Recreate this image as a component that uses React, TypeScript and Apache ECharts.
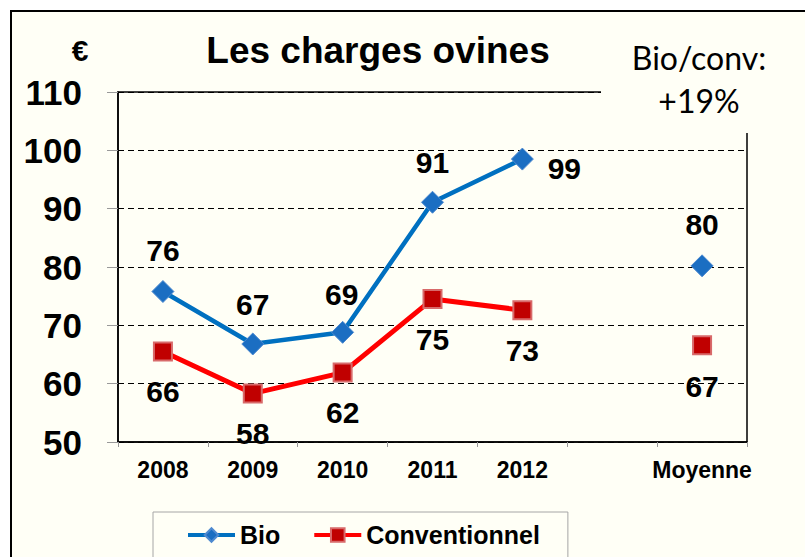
import React, { useEffect, useRef } from "react";
import * as echarts from "echarts";

// ---- data ----
const categories = ["2008", "2009", "2010", "2011", "2012", "", "Moyenne"];
const bioValues = [75.8, 66.8, 68.8, 91.1, 98.5, null, 80.2];
const convValues = [65.5, 58.3, 61.9, 74.5, 72.6, null, 66.6];
const bioLabels = ["76", "67", "69", "91", "99", "", "80"];
const convLabels = ["66", "58", "62", "75", "73", "", "67"];
const yMin = 50;
const yMax = 110;
const yStep = 10;
const titleText = "Les charges ovines";
const unitText = "€";
const ratioLine1 = "Bio/conv:";
const ratioLine2 = "+19%";
const seriesNames = ["Bio", "Conventionnel"];

// ---- layout / style ----
const CREAM = "#FFFFF6";
const FONT = '"Liberation Sans", Arial, Helvetica, sans-serif';
const bioOffsets = [[0, -41], [0, -40], [-1, -38], [0, -40], [42, 9], [0, 0], [0, -41]];
const convOffsets = [[0, 40], [0, 40], [0, 40], [0, 40], [0, 40], [0, 0], [0, 41]];

function buildData(values: (number | null)[], offsets: number[][]) {
  return values.map((v, i) =>
    v === null ? null : { value: v, label: { offset: offsets[i] } }
  );
}

export default function App() {
  const ref = useRef<HTMLDivElement>(null);

  useEffect(() => {
    if (!ref.current) return;
    const chart = echarts.init(ref.current, null, { renderer: "svg" });
    const labelBase = {
      show: true,
      position: "inside",
      fontFamily: FONT,
      fontWeight: "bold",
      fontSize: 30,
      color: "#000",
    };
    chart.setOption({
      animation: false,
      backgroundColor: "transparent",
      grid: {
        left: 118,
        top: 92,
        right: 58,
        bottom: 115,
        show: true,
        borderColor: "#000",
        borderWidth: 1.5,
        backgroundColor: "transparent",
      },
      xAxis: {
        type: "category",
        data: categories,
        boundaryGap: true,
        axisLine: { show: true, lineStyle: { color: "#000", width: 1.5 } },
        axisTick: { show: true, interval: 0, length: 5, lineStyle: { color: "#999" } },
        axisLabel: {
          interval: 0,
          margin: 16,
          fontFamily: FONT,
          fontWeight: "bold",
          fontSize: 23,
          color: "#000",
        },
        splitLine: { show: false },
      },
      yAxis: {
        type: "value",
        min: yMin,
        max: yMax,
        interval: yStep,
        axisLine: { show: true, lineStyle: { color: "#000", width: 1.5 } },
        axisTick: { show: true, length: 11, lineStyle: { color: "#999" } },
        axisLabel: {
          margin: 36,
          fontFamily: FONT,
          fontWeight: "bold",
          fontSize: 35,
          color: "#000",
        },
        splitLine: { show: true, lineStyle: { color: "#000", width: 1, type: [6, 4] } },
      },
      legend: {
        left: 153,
        top: 512,
        orient: "horizontal",
        itemGap: 32,
        itemWidth: 47,
        itemHeight: 17,
        padding: [8, 28, 40, 33],
        borderColor: "#A6A6A6",
        borderWidth: 1,
        backgroundColor: CREAM,
        lineStyle: { width: 4 },
        textStyle: {
          fontFamily: FONT,
          fontWeight: "bold",
          fontSize: 25,
          color: "#000",
          lineHeight: 30,
        },
        data: seriesNames,
      },
      series: [
        {
          name: seriesNames[0],
          type: "line",
          data: buildData(bioValues, bioOffsets),
          connectNulls: false,
          symbol: "diamond",
          symbolSize: 22,
          showAllSymbol: true,
          lineStyle: { color: "#0070C0", width: 4.5 },
          itemStyle: { color: "#1B6EC2", borderColor: "#4F8AD0", borderWidth: 1 },
          label: { ...labelBase, formatter: (p: any) => bioLabels[p.dataIndex] },
          z: 3,
        },
        {
          name: seriesNames[1],
          type: "line",
          data: buildData(convValues, convOffsets),
          connectNulls: false,
          symbol: "rect",
          symbolSize: 18,
          showAllSymbol: true,
          lineStyle: { color: "#FF0000", width: 5 },
          itemStyle: { color: "#C00000", borderColor: "#D86A6A", borderWidth: 2 },
          label: { ...labelBase, formatter: (p: any) => convLabels[p.dataIndex] },
          z: 2,
        },
      ],
      graphic: [
        {
          type: "rect",
          z: 100,
          shape: { x: 601, y: 13, width: 210, height: 120 },
          style: { fill: CREAM },
        },
        {
          type: "text",
          z: 101,
          x: 80,
          y: 50,
          style: {
            text: unitText,
            fill: "#000",
            fontFamily: FONT,
            fontWeight: "bold",
            fontSize: 30,
            align: "center",
            verticalAlign: "middle",
          },
        },
        {
          type: "text",
          z: 101,
          x: 378,
          y: 50,
          style: {
            text: titleText,
            fill: "#000",
            fontFamily: FONT,
            fontWeight: "bold",
            fontSize: 37,
            align: "center",
            verticalAlign: "middle",
          },
        },
        {
          type: "text",
          z: 101,
          x: 699,
          y: 57,
          style: {
            text: ratioLine1,
            fill: "#000",
            fontFamily: "Lato, Carlito, sans-serif",
            fontSize: 32,
            align: "center",
            verticalAlign: "middle",
          },
        },
        {
          type: "text",
          z: 101,
          x: 699,
          y: 100,
          style: {
            text: ratioLine2,
            fill: "#000",
            fontFamily: "Lato, Carlito, sans-serif",
            fontSize: 32,
            align: "center",
            verticalAlign: "middle",
          },
        },
      ],
    });
    return () => chart.dispose();
  }, []);

  return (
    <div
      style={{
        position: "fixed",
        left: 0,
        top: 0,
        width: 805,
        height: 557,
        background: "#fff",
        overflow: "hidden",
      }}
    >
      <div
        style={{
          position: "absolute",
          left: 10,
          top: 10,
          width: 900,
          height: 700,
          border: "2px solid #000",
          background: CREAM,
          boxSizing: "border-box",
        }}
      />
      <div ref={ref} style={{ position: "absolute", left: 0, top: 0, width: 805, height: 557 }} />
    </div>
  );
}
